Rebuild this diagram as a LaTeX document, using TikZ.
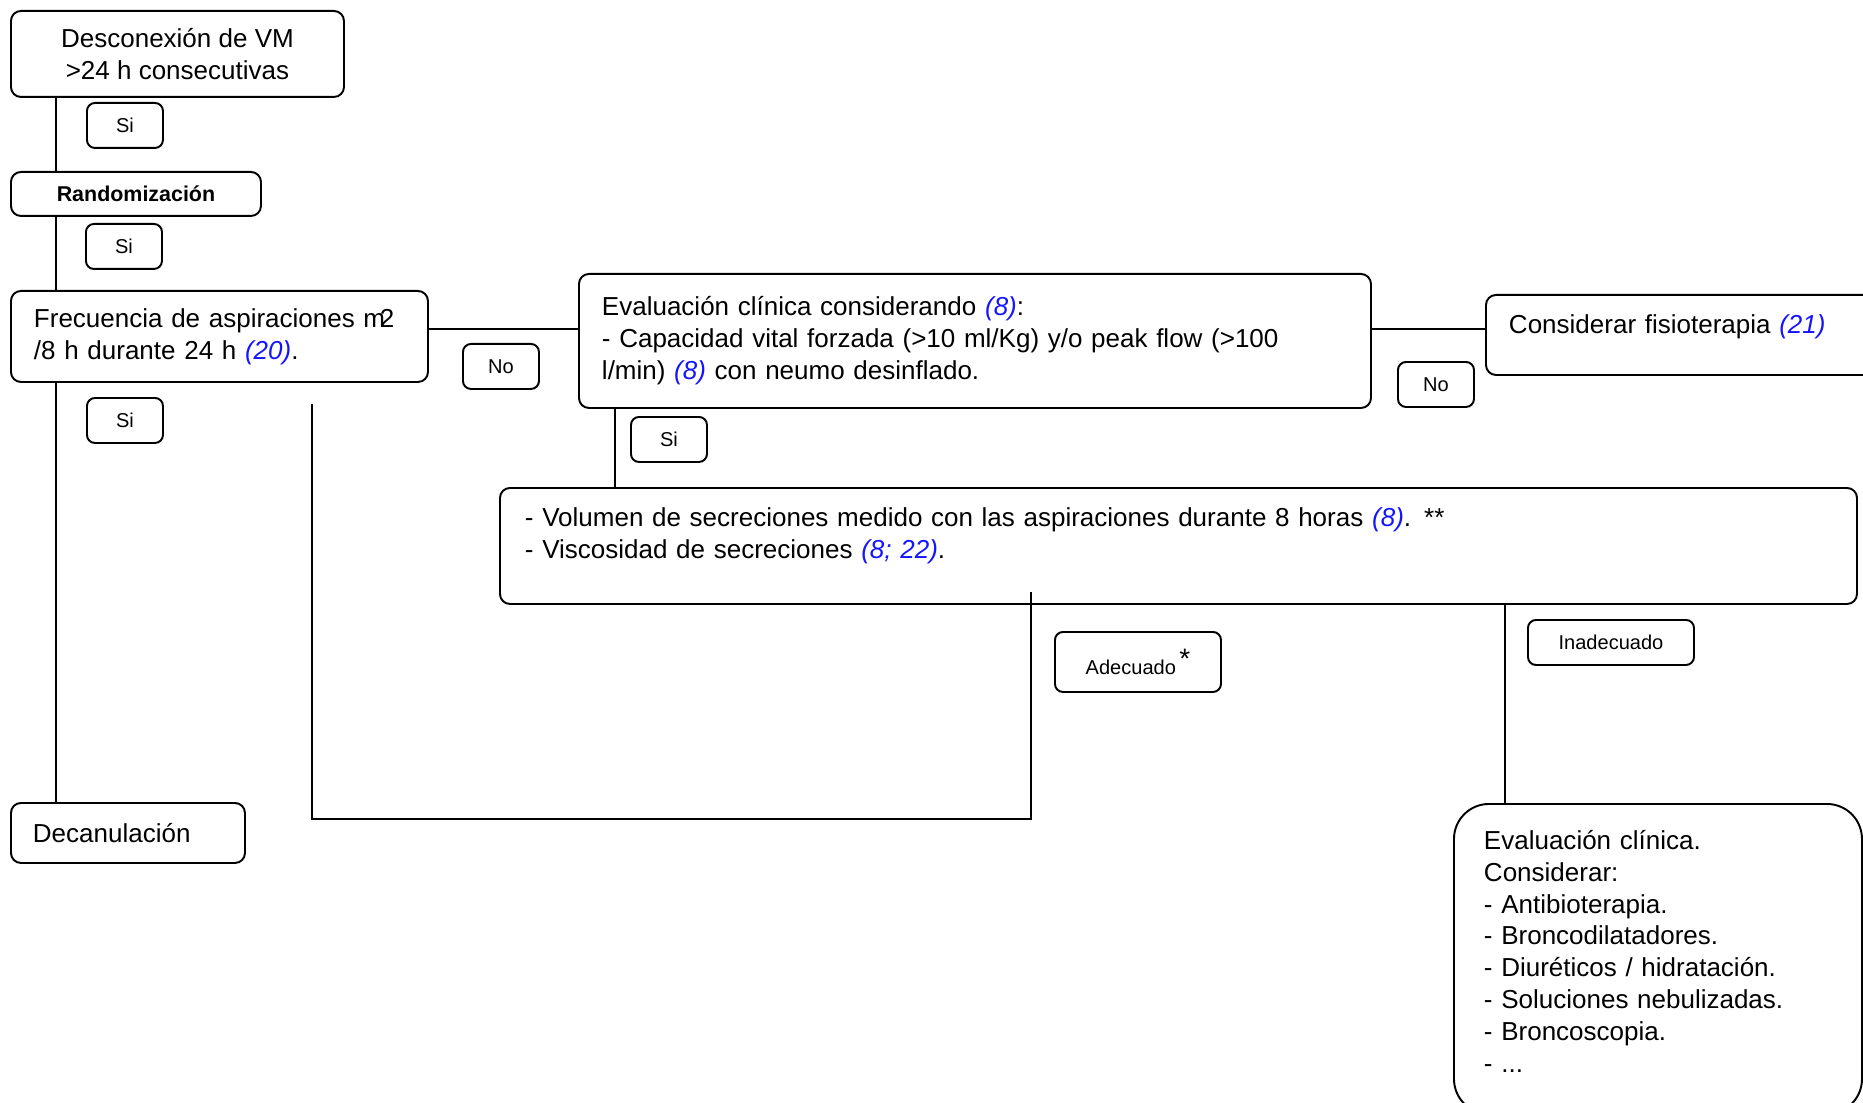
\documentclass[tikz,border=0pt]{standalone}
\usepackage{fontspec}
\setmainfont{Liberation Sans}
\usepackage{xcolor}
\definecolor{citeblue}{HTML}{1414FF}
\newcommand{\cita}[1]{\textcolor{citeblue}{\textit{#1}}}

\begin{document}
\begin{tikzpicture}[x=0.2mm,y=-0.2mm,
    box/.style={draw,line width=1.1pt,rounded corners=2mm,anchor=north west,inner sep=0pt,
      font=\fontsize{14.8}{18.2}\selectfont},
    lbox/.style={box,align=left,inner xsep=4.6mm},
    tag/.style={box,rounded corners=1.6mm,minimum width=15.2mm,minimum height=9mm,align=center,
      font=\fontsize{11.4}{13}\selectfont},
    a/.style={line width=1.1pt}]
    \useasboundingbox (0,0) rectangle (1863,1103);
    % main column
    \node[box,minimum width=66.6mm,minimum height=17.2mm,align=center] (desc) at (10,10)
      {Desconexión de VM\\>24 h consecutivas};
    \node[box,minimum width=50mm,minimum height=8.8mm,font=\fontsize{12.2}{14}\selectfont\bfseries] (rand) at (10,171) {Randomización};
    \node[lbox,text width=74.2mm,minimum height=18.2mm] (freq) at (10,290)
      {Frecuencia de aspiraciones m\kern-.2em2\\/8 h durante 24 h \cita{(20)}.};
    \node[lbox,inner xsep=4.4mm,text width=38mm,minimum height=12mm] (deca) at (10,802) {Decanulación};
    % evaluation branch
    \node[lbox,text width=149.2mm,minimum height=26.8mm] (eval) at (578,273)
      {Evaluación clínica considerando \cita{(8)}:\\- Capacidad vital forzada (>10 ml/Kg) y/o peak flow (>100\\l/min) \cita{(8)} con neumo desinflado.};
    \node[lbox,text width=70.8mm,minimum height=16mm,text depth=4.2mm] (cons) at (1485,294)
      {Considerar fisioterapia \cita{(21)}};
    \node[lbox,inner xsep=5mm,text width=261.4mm,minimum height=23.2mm,text depth=11.4mm] (vol) at (499,487)
      {- Volumen de secreciones medido con las aspiraciones durante 8 horas \cita{(8)}. **\\- Viscosidad de secreciones \cita{(8; 22)}.};
    \node[lbox,inner xsep=6mm,text width=69.6mm,minimum height=62mm,text depth=47.8mm,rounded corners=7mm] (fin) at (1453,803)
      {Evaluación clínica.\\Considerar:\\- Antibioterapia.\\- Broncodilatadores.\\- Diuréticos / hidratación.\\- Soluciones nebulizadas.\\- Broncoscopia.\\- ...};
    % answer tags
    \node[tag] (si1) at (86,102) {Si};
    \node[tag] (si2) at (85,223) {Si};
    \node[tag] (si3) at (86,397) {Si};
    \node[tag] (no1) at (462,343) {No};
    \node[tag] (no2) at (1397,361) {No};
    \node[tag] (si4) at (630,416) {Si};
    \node[tag,minimum width=33.2mm,minimum height=12mm] (adec) at (1054,631)
      {Adecuado\,\raisebox{.3em}{\fontsize{16}{16}\selectfont *}};
    \node[tag,minimum width=33.2mm] (inad) at (1527,619) {Inadecuado};
    % connectors
    \coordinate (spine) at (56,0);
    \coordinate (row) at (0,329);
    \coordinate (evx) at (615,0);
    \coordinate (inx) at (1505,0);
    \coordinate (adtop) at (1031,592);
    \coordinate (rettop) at (312,404);
    \draw[a] (desc.south -| spine) -- (rand.north -| spine);
    \draw[a] (rand.south -| spine) -- (freq.north -| spine);
    \draw[a] (freq.south -| spine) -- (deca.north -| spine);
    \draw[a] (freq.east |- row) -- (eval.west |- row);
    \draw[a] (eval.east |- row) -- (cons.west |- row);
    \draw[a] (eval.south -| evx) -- (vol.north -| evx);
    \draw[a] (adtop) -- ++(0,227) -| (rettop);
    \draw[a] (vol.south -| inx) -- (fin.north -| inx);
  \end{tikzpicture}
\end{document}
